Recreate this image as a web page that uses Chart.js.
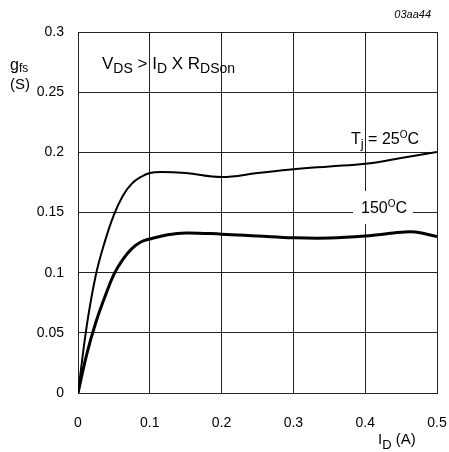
<!DOCTYPE html>
<html>
<head>
<meta charset="utf-8">
<script src="https://cdn.jsdelivr.net/npm/chart.js@4"></script>
<style>
  html, body { margin: 0; padding: 0; background: #fff; }
  #wrap { width: 449px; height: 452px; }
</style>
</head>
<body>
<div id="wrap"><canvas id="chart" width="449" height="452"></canvas></div>
<script>
// values
const idAt25 = [0, 0.0125, 0.025, 0.0375, 0.05, 0.0625, 0.075, 0.0875, 0.1, 0.116, 0.15, 0.2, 0.25, 0.3, 0.35, 0.4, 0.45, 0.5];
const gfsAt25 = [0, 0.057, 0.0985, 0.126, 0.148, 0.164, 0.174, 0.1795, 0.1828, 0.1837, 0.1828, 0.1795, 0.1828, 0.186, 0.1883, 0.1905, 0.1953, 0.2003];

const idAt150 = [0, 0.0125, 0.025, 0.0375, 0.05, 0.0625, 0.075, 0.0875, 0.1, 0.125, 0.15, 0.2, 0.25, 0.3, 0.35, 0.4, 0.45, 0.47, 0.5];
const gfsAt150 = [0, 0.033, 0.059, 0.08, 0.0985, 0.111, 0.12, 0.1255, 0.128, 0.1315, 0.133, 0.132, 0.1305, 0.129, 0.1288, 0.1305, 0.1335, 0.1338, 0.130];

const xTickLabels = ["0", "0.1", "0.2", "0.3", "0.4", "0.5"];
const yTickLabels = ["0", "0.05", "0.1", "0.15", "0.2", "0.25", "0.3"];

const FONT = "'Liberation Sans', Arial, sans-serif";

function pts(xs, ys) {
  return xs.map((x, i) => ({ x: x, y: ys[i] }));
}

// draw a string made of pieces: [text, size, baseline shift]
function runs(ctx, x, y, parts) {
  ctx.textBaseline = "alphabetic";
  ctx.textAlign = "left";
  for (let p of parts) {
    ctx.font = p[1] + "px " + FONT;
    ctx.fillText(p[0], x, y + (p[2] || 0));
    x += ctx.measureText(p[0]).width;
  }
}

const notes = {
  id: "notes",
  afterDraw(chart) {
    const ctx = chart.ctx;
    ctx.save();
    ctx.fillStyle = "#000";

    // figure code
    ctx.font = "italic 11px " + FONT;
    ctx.textAlign = "right";
    ctx.textBaseline = "alphabetic";
    ctx.fillText("03aa44", 431, 18);

    // y title
    runs(ctx, 10, 70, [["g", 16], ["fs", 12, 2]]);
    runs(ctx, 10, 89, [["(S)", 15]]);

    // x title
    runs(ctx, 378, 444, [["I", 15], ["D", 13, 5], [" (A)", 15]]);

    // condition
    runs(ctx, 102, 69, [["V", 17], ["DS", 14, 4], [" > ", 17], ["I", 17], ["D", 14, 4], [" X R", 17], ["DSon", 14, 4]]);

    // curve labels
    runs(ctx, 351, 144, [["T", 16], ["j", 13, 4], [" = 25", 16], ["O", 10, -6], ["C", 16]]);

    ctx.fillStyle = "#fff";
    ctx.fillRect(353, 191, 60, 33);
    ctx.fillStyle = "#000";
    runs(ctx, 361, 213, [["150", 16], ["O", 10, -6], ["C", 16]]);
    ctx.restore();
  }
};

new Chart(document.getElementById("chart"), {
  type: "line",
  data: {
    datasets: [
      {
        label: "Tj = 25°C",
        data: pts(idAt25, gfsAt25),
        borderColor: "#000",
        borderWidth: 2,
        pointRadius: 0,
        tension: 0.4
      },
      {
        label: "150°C",
        data: pts(idAt150, gfsAt150),
        borderColor: "#000",
        borderWidth: 3,
        pointRadius: 0,
        tension: 0.4
      }
    ]
  },
  options: {
    responsive: false,
    animation: false,
    events: [],
    layout: { padding: { left: 0, top: 32, right: 12, bottom: 0 } },
    plugins: { legend: { display: false }, tooltip: { enabled: false } },
    scales: {
      x: {
        type: "linear",
        min: 0,
        max: 0.5,
        afterFit: s => { s.height = 59; s.paddingLeft = 0; s.paddingRight = 0; },
        grid: { color: "#222", lineWidth: 1, drawTicks: false },
        border: { color: "#222", width: 1 },
        ticks: {
          stepSize: 0.1,
          padding: 22,
          color: "#000",
          font: { family: FONT, size: 14 },
          maxRotation: 0,
          callback: (v, i) => xTickLabels[i]
        }
      },
      y: {
        min: 0,
        max: 0.3,
        afterFit: s => { s.width = 78; s.paddingTop = 0; s.paddingBottom = 0; },
        grid: { color: "#222", lineWidth: 1, drawTicks: false },
        border: { color: "#222", width: 1 },
        ticks: {
          stepSize: 0.05,
          padding: 14,
          color: "#000",
          font: { family: FONT, size: 14 },
          callback: (v, i) => yTickLabels[i]
        }
      }
    }
  },
  plugins: [notes]
});
</script>
</body>
</html>
